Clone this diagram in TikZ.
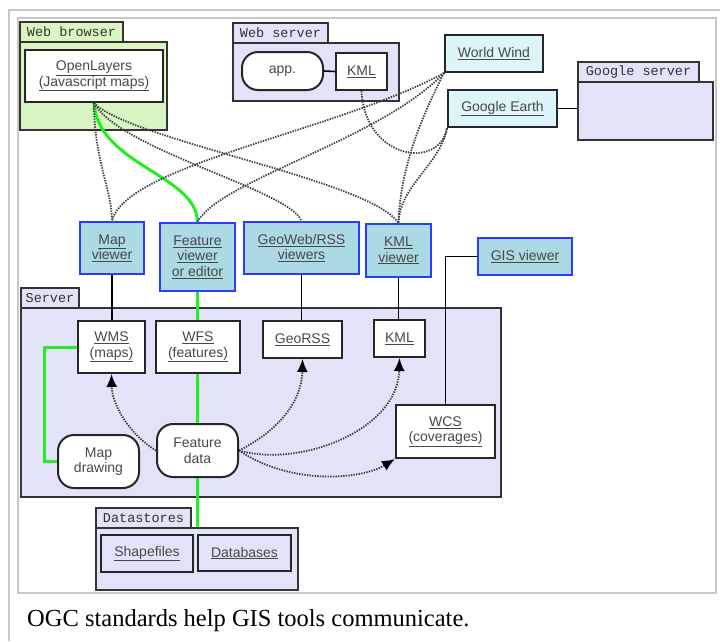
\documentclass[tikz,border=0pt]{standalone}
\usepackage{fontspec}
\setmainfont{Liberation Sans}
\newfontfamily\capfont{Liberation Serif}
\newfontfamily\tabfont{Liberation Mono}
\usetikzlibrary{arrows.meta}
\definecolor{framegray}{HTML}{C8C8C8}
\definecolor{boxline}{HTML}{333333}
\definecolor{bgreen}{HTML}{D9F5C2}
\definecolor{lav}{HTML}{E2E2F8}
\definecolor{lcyan}{HTML}{DDF4F8}
\definecolor{vblue}{HTML}{ABD9E4}
\definecolor{vborder}{HTML}{2B3BFF}
\definecolor{txtgray}{HTML}{484848}
\definecolor{dotgray}{HTML}{404040}
\definecolor{lgreen}{HTML}{22EE22}
\newcommand\lk[1]{\underline{#1}}
\begin{document}
\begin{tikzpicture}[x=1pt,y=-1pt,
  sz/.style 2 args={minimum width=#1pt,minimum height=#2pt},
  frame/.style={draw=framegray,line width=2pt},
  tabbox/.style={draw=boxline,line width=2pt,inner sep=1pt,
    font=\tabfont\fontsize{13.5}{14}\selectfont,text=boxline},
  grpbox/.style={draw=boxline,line width=2.2pt,inner sep=0pt},
  whitebox/.style={draw=black!85,line width=2pt,fill=white,inner sep=1pt,align=center,
    font=\fontsize{14}{15.5}\selectfont,text=txtgray},
  pill/.style={whitebox,rounded corners=16pt},
  appbox/.style={whitebox,fill=lcyan},
  viewer/.style={draw=vborder,line width=2pt,fill=vblue,inner sep=1pt,align=center,
    font=\fontsize{14}{15.5}\selectfont,text=txtgray},
  solidl/.style={draw=black,line width=1.6pt},
  greenl/.style={draw=lgreen,line width=3pt},
  dots/.style={draw=dotgray,line width=1.8pt,dash pattern=on 1.4pt off 1.2pt},
  arr/.style={dots,-{Latex[length=13pt,width=11pt,color=black,fill=black]}}]
\useasboundingbox[fill=white] (0,0) rectangle (720,641);
\draw[frame] (9,641) -- (9,10) -- (720,10);
\draw[frame] (18,18) rectangle (716,593);

% Web browser
\node[tabbox,fill=bgreen,sz={103}{20}] (wbtab) at (71.5,32) {Web browser};
\node[grpbox,fill=bgreen,sz={147}{88}] (wb) at (93.5,86) {};
\node[whitebox,sz={138}{52}] (ol) at (94,76) {\lk{OpenLayers}\\\lk{(Javascript maps)}};

% Web server
\node[tabbox,fill=lav,sz={95}{20}] (wstab) at (280.5,33) {Web server};
\node[grpbox,fill=lav,sz={166}{58}] (ws) at (316,72) {};
\node[pill,sz={81}{38}] (app) at (282.5,71) {app.};
\node[whitebox,sz={51}{37}] (wskml) at (361.5,71.5) {\lk{KML}};

% World Wind, Google Earth, Google server
\node[appbox,sz={98}{37}] (ww) at (494,53.5) {\lk{World Wind}};
\node[appbox,sz={109}{37}] (ge) at (502.5,108.5) {\lk{Google Earth}};
\node[tabbox,fill=lav,sz={121}{20}] (gstab) at (638.5,72) {Google server};
\node[grpbox,fill=lav,sz={135}{58}] (gs) at (645.5,111) {};

% Viewers
\node[viewer,sz={64}{52}] (mapv) at (112,248) {\lk{Map}\\\lk{viewer}};
\node[viewer,sz={75}{68}] (featv) at (197.5,257) {\lk{Feature}\\\lk{viewer}\\\lk{or editor}};
\node[viewer,sz={115}{52}] (geov) at (301.5,248) {\lk{GeoWeb/RSS}\\\lk{viewers}};
\node[viewer,sz={65}{53}] (kmlv) at (398.5,250.5) {\lk{KML}\\\lk{viewer}};
\node[viewer,sz={94}{37}] (gisv) at (525,256.5) {\lk{GIS viewer}};

% Server
\node[tabbox,fill=lav,sz={58}{20}] (svtab) at (50,298) {Server};
\node[grpbox,fill=lav,sz={480}{189}] (sv) at (261,402.5) {};
\node[whitebox,sz={67}{52}] (wms) at (111.5,347) {\lk{WMS}\\\lk{(maps)}};
\node[whitebox,sz={84}{52}] (wfs) at (198,347) {\lk{WFS}\\\lk{(features)}};
\node[whitebox,sz={79}{37}] (georss) at (302.5,339.5) {\lk{GeoRSS}};
\node[whitebox,sz={51}{37}] (kml) at (399.5,338.5) {\lk{KML}};
\node[whitebox,sz={99}{53}] (wcs) at (445.5,431.5) {\lk{WCS}\\\lk{(coverages)}};
\node[pill,sz={81}{53}] (mapd) at (98.5,461.5) {Map\\drawing};
\node[pill,sz={81}{53}] (fdata) at (197.5,450.5) {Feature\\data};

% Datastores
\node[tabbox,fill=lav,sz={95}{20}] (dstab) at (143.5,518) {Datastores};
\node[grpbox,fill=lav,sz={202}{62}] (ds) at (197,559) {};
\node[whitebox,fill=lav,sz={92}{37}] (shp) at (147,553.5) {\lk{Shapefiles}};
\node[whitebox,fill=lav,sz={93}{36}] (dbs) at (244.5,553) {\lk{Databases}};

% solid connectors
\draw[solidl] (app.east) -- (wskml.west);
\draw[solidl] (ge.east) -- (gs.west |- ge.east);
\draw[solidl] (mapv.south) -- (mapv.south |- wms.north);
\draw[solidl] (geov.south) -- (geov.south |- georss.north);
\draw[solidl] (kmlv.south) -- (kmlv.south |- kml.north);
\draw[solidl] (gisv.west) -| (wcs.north);

% green connectors
\draw[greenl] (featv.south) -- (featv.south |- wfs.north);
\draw[greenl] (wfs.south -| featv.south) -- (fdata.north -| featv.south);
\draw[greenl] (fdata.south -| featv.south) -- (ds.north -| featv.south);
\draw[greenl] (wms.west) -- ++(-33,0) |- (mapd.west);
\draw[greenl] (ol.south) .. controls (98,165) and (197,175) .. (featv.north);

% dotted connectors (top)
\draw[dots] (ol.south) .. controls (94,160) and (112,190) .. (mapv.north);
\draw[dots] (ol.south) .. controls (120,150) and (290,190) .. (geov.north);
\draw[dots] (ol.south) .. controls (130,140) and (370,180) .. (kmlv.north);
\draw[dots] (ww.south west) .. controls (340,130) and (125,165) .. (mapv.north);
\draw[dots] (ww.south west) .. controls (380,140) and (220,180) .. (featv.north);
\draw[dots] (ww.south west) .. controls (420,120) and (400,170) .. (kmlv.north);
\draw[dots] (ge.south west) .. controls (440,165) and (400,185) .. (kmlv.north);
\draw[dots] (wskml.south) .. controls (365,160) and (440,170) .. (ge.south west);

% dotted arrows (server)
\draw[arr] (fdata.west) .. controls (130,435) and (112,405) .. (wms.south);
\draw[arr] (fdata.east) .. controls (280,430) and (302,400) .. (georss.south);
\draw[arr] (fdata.east) .. controls (300,468) and (398,430) .. (kml.south);
\draw[arr] (fdata.east) .. controls (290,485) and (360,480) .. (wcs.south west);

% caption
\node[anchor=base west,inner sep=0pt,font=\capfont\fontsize{24.5}{28}\selectfont] (cap) at (27,626) {OGC standards help GIS tools communicate.};
\end{tikzpicture}
\end{document}
